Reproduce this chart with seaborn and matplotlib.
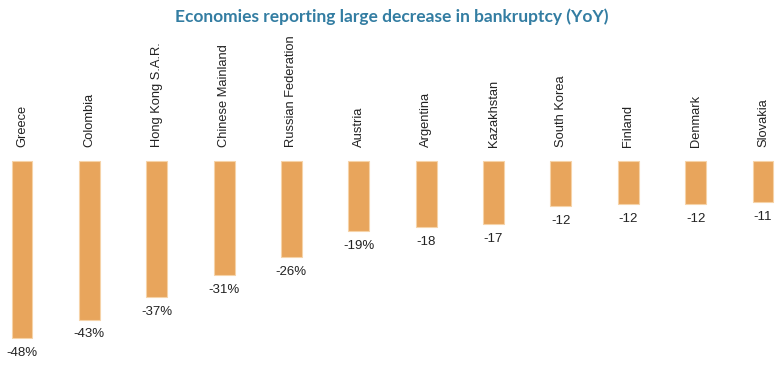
import numpy as np
import pandas as pd
import seaborn as sns
import matplotlib
matplotlib.use("Agg")
import matplotlib.pyplot as plt

countries = ["Greece", "Colombia", "Hong Kong S.A.R.", "Chinese Mainland",
             "Russian Federation", "Austria", "Argentina", "Kazakhstan",
             "South Korea", "Finland", "Denmark", "Slovakia"]
change = [-48, -43, -37, -31, -26, -19, -18, -17, -12.2, -11.8, -11.7, -11.1]
value_labels = ["-48%", "-43%", "-37%", "-31%", "-26%", "-19%",
                "-18", "-17", "-12", "-12", "-12", "-11"]

df = pd.DataFrame({"country": countries, "change": change})

sns.set_style("white")
plt.rcParams["font.family"] = ["Liberation Sans", "DejaVu Sans"]

fig = plt.figure(figsize=(7.83, 3.65), dpi=100)
ax = fig.add_axes([0, 0, 1, 1])

sns.barplot(data=df, x="country", y="change", color="#E8A55C",
            width=0.31, edgecolor="#F6D3A8", linewidth=0.8,
            saturation=1, ax=ax)

ax.set_xlim(-0.326, 11.297)
ax.set_ylim(-55.3, 43.6)
ax.axis("off")

for i, (name, v, lab) in enumerate(zip(countries, change, value_labels)):
    # country name above the bar, value below its end
    ax.text(i, 3.8, name, rotation=90, ha="center", va="bottom",
            fontsize=9.3, color="#222222")
    ax.text(i, v - 2.4, lab, ha="center", va="top",
            fontsize=9.5, color="#222222")

fig.text(0.5, 0.955, "Economies reporting large decrease in bankruptcy (YoY)",
         ha="center", va="center", fontsize=12.5, fontweight="bold",
         color="#337DA2", family=["Lato", "DejaVu Sans"])

fig.savefig("out.png", dpi=100)
